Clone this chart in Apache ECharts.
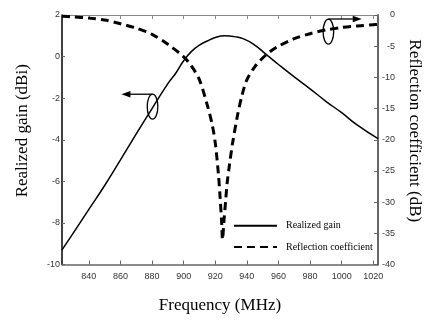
<!DOCTYPE html>
<html>
<head>
<meta charset="utf-8">
<script src="https://cdn.jsdelivr.net/npm/echarts@6/dist/echarts.min.js"></script>
<style>html,body{margin:0;padding:0;background:#fff;}#c{width:432px;height:320px;}</style>
</head>
<body>
<div id="c"></div>
<script>
// ---- data ----
var xTicks = [840, 860, 880, 900, 920, 940, 960, 980, 1000, 1020];
var gainFreq = [823, 830, 840, 850, 860, 870, 880, 890, 895, 900, 905, 910, 915, 920, 926, 932, 938, 945, 952, 960, 970, 980, 990, 1000, 1010, 1023];
var gainVals = [-9.3, -8.5, -7.35, -6.2, -4.97, -3.72, -2.5, -1.3, -0.8, -0.2, 0.25, 0.55, 0.75, 0.92, 1.0, 0.96, 0.85, 0.55, 0.12, -0.38, -0.98, -1.55, -2.15, -2.7, -3.3, -3.95];
var reflFreq = [823, 830, 840, 850, 860, 870, 880, 890, 900, 905, 910, 915, 918, 920, 922, 923, 924, 924.6, 925.5, 926.5, 927.5, 929, 931, 934, 937, 940, 945, 950, 955, 960, 970, 980, 990, 1000, 1010, 1020, 1023];
var reflVals = [-0.2, -0.3, -0.5, -0.8, -1.4, -2.1, -3.1, -4.7, -6.7, -8.2, -10.4, -14.5, -17.5, -20.5, -25.5, -29, -33, -36, -33, -30, -27, -24, -20.5, -16.2, -12.8, -10.4, -8.3, -6.9, -5.8, -5.0, -3.8, -3.0, -2.4, -2.0, -1.75, -1.55, -1.5];
var gainName = 'Realized gain';
var reflName = 'Reflection coefficient';

function pairs(xs, ys) { return xs.map(function (x, i) { return [x, ys[i]]; }); }
function plain(v) { return String(v); }

var chart = echarts.init(document.getElementById('c'), null, { renderer: 'canvas' });
var tickFont = { fontFamily: 'Liberation Sans', fontSize: 9, color: '#333' };
function nameFont(pad) { return { fontFamily: 'Liberation Serif', fontSize: 17, color: '#000', padding: pad }; }

chart.setOption({
  animation: false,
  backgroundColor: '#fff',
  grid: { left: 62, right: 54, top: 15, bottom: 55.5, containLabel: false },
  legend: {
    left: 233, top: 220.2, padding: 0, orient: 'vertical', itemWidth: 43, itemHeight: 14, itemGap: 10,
    itemStyle: { color: 'rgba(0,0,0,0)', borderWidth: 0 },
    textStyle: { fontFamily: 'Liberation Serif', fontSize: 10, color: '#000', padding: [0, 0, 0, 4] },
    data: [gainName, reflName]
  },
  xAxis: [{
    type: 'value', min: 823, max: 1023, position: 'bottom',
    name: 'Frequency (MHz)', nameLocation: 'middle', nameGap: 33, nameTextStyle: nameFont([0, 0, 0, 0]),
    axisLine: { show: true, onZero: false, lineStyle: { color: '#666', width: 1.5 } },
    axisTick: { show: true, inside: true, length: 4, customValues: xTicks, lineStyle: { color: '#666' } },
    axisLabel: Object.assign({ customValues: xTicks, margin: 8, formatter: plain }, tickFont),
    splitLine: { show: false }
  }, {
    type: 'value', min: 823, max: 1023, position: 'top',
    axisLine: { show: true, onZero: false, lineStyle: { color: '#888', width: 1 } },
    axisTick: { show: true, inside: true, length: 4, customValues: xTicks, lineStyle: { color: '#888' } },
    axisLabel: { show: false },
    splitLine: { show: false }
  }],
  yAxis: [{
    type: 'value', min: -10, max: 2, interval: 2, position: 'left',
    name: 'Realized gain (dBi)', nameLocation: 'middle', nameGap: 31, nameRotate: 90, nameTextStyle: nameFont([0, 0, 0, 18]),
    axisLine: { show: true, onZero: false, lineStyle: { color: '#000', width: 1.5 } },
    axisTick: { show: true, inside: true, length: 3, lineStyle: { color: '#666' } },
    axisLabel: Object.assign({ margin: 2, formatter: plain }, tickFont),
    splitLine: { show: false }
  }, {
    type: 'value', min: -40, max: 0, interval: 5, position: 'right',
    name: 'Reflection coefficient (dB)', nameLocation: 'middle', nameGap: 25, nameRotate: -90, nameTextStyle: nameFont([0, 18, 0, 0]),
    axisLine: { show: true, onZero: false, lineStyle: { color: '#666', width: 2 } },
    axisTick: { show: true, inside: true, length: 4, lineStyle: { color: '#666' } },
    axisLabel: Object.assign({ margin: 17, align: 'right', formatter: plain }, tickFont),
    splitLine: { show: false }
  }],
  series: [{
    name: gainName, type: 'line', xAxisIndex: 0, yAxisIndex: 0, smooth: true, symbol: 'none',
    lineStyle: { color: '#000', width: 1.5 }, itemStyle: { color: '#000' },
    data: pairs(gainFreq, gainVals)
  }, {
    name: reflName, type: 'line', xAxisIndex: 0, yAxisIndex: 1, smooth: 0.3, symbol: 'none',
    lineStyle: { color: '#000', width: 3, type: [8, 5] }, itemStyle: { color: '#000' },
    data: pairs(reflFreq, reflVals)
  }]
});

// annotations (ellipses and arrows), positioned in data coordinates
function px(axisY, x, y) { return chart.convertToPixel({ xAxisIndex: 0, yAxisIndex: axisY }, [x, y]); }
function annot(axisY, ex, ey, ay, tipX) {
  var c = px(axisY, ex, ey);
  var a = px(axisY, ex, ay);
  var t = px(axisY, tipX, ay);
  var dir = t[0] < a[0] ? 1 : -1;
  return [
    { type: 'ellipse', shape: { cx: c[0], cy: c[1], rx: 5.3, ry: 12.5 }, style: { fill: 'none', stroke: '#000', lineWidth: 1.3 }, z: 100 },
    { type: 'line', shape: { x1: a[0], y1: a[1], x2: t[0] + dir * 6, y2: t[1] }, style: { stroke: '#000', lineWidth: 1.3 }, z: 100 },
    { type: 'polygon', shape: { points: [[t[0], t[1]], [t[0] + dir * 9, t[1] - 3.2], [t[0] + dir * 9, t[1] + 3.2]] }, style: { fill: '#000' }, z: 100 }
  ];
}
chart.setOption({
  graphic: annot(0, 880.3, -2.41, -1.81, 860.6).concat(annot(1, 991.6, -2.68, -0.64, 1012.7))
});
</script>
</body>
</html>
